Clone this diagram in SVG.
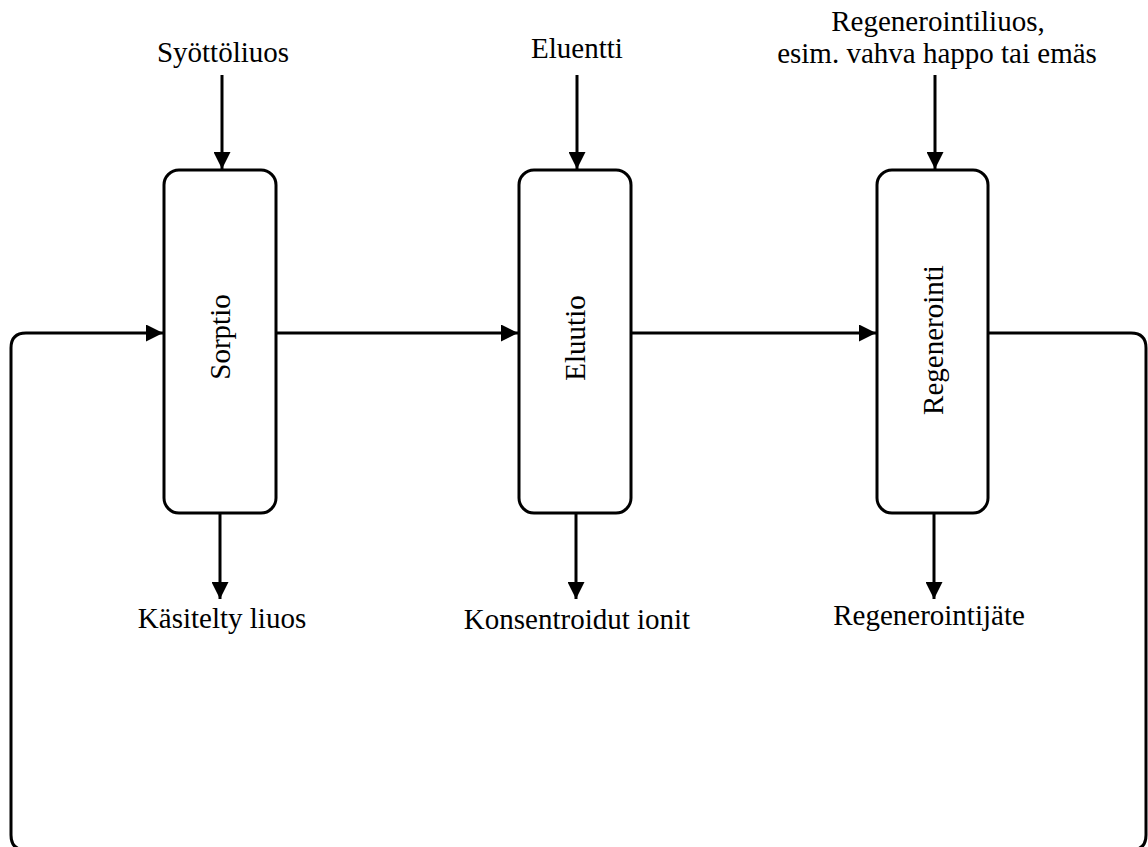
<svg xmlns="http://www.w3.org/2000/svg" width="1148" height="847" viewBox="0 0 1148 847">
<style>
.box{fill:#fff;stroke:#000;stroke-width:3}
.ln{fill:none;stroke:#000;stroke-width:3}
.t{font-family:"Liberation Serif","Times New Roman",serif;font-size:29px;fill:#000;text-anchor:middle}
.v{dominant-baseline:central}
</style>
<defs>
<marker id="ah" markerUnits="userSpaceOnUse" markerWidth="17" markerHeight="17" refX="17" refY="8.5" orient="auto">
<path d="M0,0 L17,8.5 L0,17 Z" fill="#000"/>
</marker>
</defs>
<rect width="1148" height="847" fill="#fff"/>
<g id="connectors">
<path class="ln" d="M222 75 V169" marker-end="url(#ah)"/>
<path class="ln" d="M577 75 V169" marker-end="url(#ah)"/>
<path class="ln" d="M935 75 V169" marker-end="url(#ah)"/>
<path class="ln" d="M220 513 V599" marker-end="url(#ah)"/>
<path class="ln" d="M576 513 V599" marker-end="url(#ah)"/>
<path class="ln" d="M934 513 V599" marker-end="url(#ah)"/>
<path class="ln" d="M276 333 H518" marker-end="url(#ah)"/>
<path class="ln" d="M631 333 H876" marker-end="url(#ah)"/>
<path class="ln" d="M988 333 H1131 Q1146 333 1146 348 V835 Q1146 850 1131 850 H26 Q11 850 11 835 V348 Q11 333 26 333 H163" marker-end="url(#ah)"/>
</g>
<g id="sorptio">
<rect class="box" x="164" y="170" width="112" height="343" rx="15"/>
<text class="t v" transform="translate(220,337) rotate(-90)">Sorptio</text>
</g>
<g id="eluutio">
<rect class="box" x="519" y="170" width="112" height="343" rx="15"/>
<text class="t v" transform="translate(575,338) rotate(-90)">Eluutio</text>
</g>
<g id="regenerointi">
<rect class="box" x="877" y="170" width="111" height="343" rx="15"/>
<text class="t v" transform="translate(933,340) rotate(-90)">Regenerointi</text>
</g>
<g id="syottoliuos"><text class="t" x="223" y="62">Syöttöliuos</text></g>
<g id="eluentti"><text class="t" x="577" y="58">Eluentti</text></g>
<g id="regenerointiliuos">
<text class="t" x="938" y="31">Regenerointiliuos,</text>
<text class="t" x="937" y="63">esim. vahva happo tai emäs</text>
</g>
<g id="kasitelty"><text class="t" x="222" y="628">Käsitelty liuos</text></g>
<g id="konsentroidut"><text class="t" x="577" y="629">Konsentroidut ionit</text></g>
<g id="regenerointijate"><text class="t" x="929" y="625">Regenerointijäte</text></g>
</svg>
